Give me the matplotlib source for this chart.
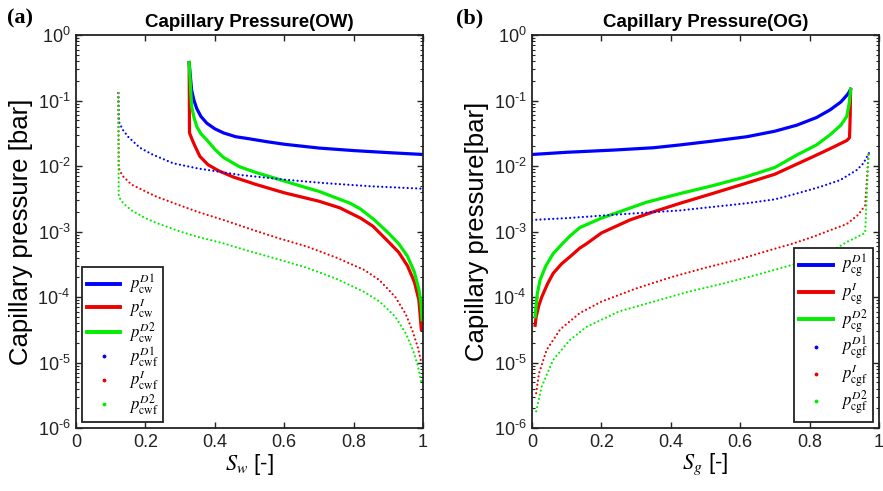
import numpy as np
import matplotlib
matplotlib.use("Agg")
import matplotlib.pyplot as plt
from matplotlib.lines import Line2D
from matplotlib.font_manager import FontProperties
from matplotlib.ticker import FuncFormatter, NullFormatter, FixedLocator

plt.rcParams['font.family'] = ['Liberation Sans', 'DejaVu Sans']
plt.rcParams['mathtext.fontset'] = 'custom'
plt.rcParams['mathtext.rm'] = 'Liberation Sans'
plt.rcParams['mathtext.it'] = 'Liberation Sans:italic'
plt.rcParams['mathtext.bf'] = 'Liberation Sans:bold'

# ---------------- Panel (a): OW ----------------
sw_cw_d1 = [0.326, 0.329, 0.333, 0.34, 0.348, 0.36, 0.377, 0.4, 0.425, 0.46, 0.5, 0.55, 0.6, 0.7, 0.8, 0.9, 1.0]
p_cw_d1 = [0.38, 0.25, 0.145, 0.1, 0.075, 0.057, 0.045, 0.037, 0.032, 0.028, 0.026, 0.0235, 0.0215, 0.0188, 0.0172, 0.016, 0.015]

sw_cw_i = [0.326, 0.327, 0.335, 0.343, 0.357, 0.38, 0.41, 0.453, 0.52, 0.6, 0.7, 0.76, 0.82, 0.856, 0.9, 0.93, 0.955, 0.975, 0.988, 0.995]
p_cw_i = [0.38, 0.032, 0.025, 0.02, 0.014, 0.0105, 0.0085, 0.0068, 0.0052, 0.0039, 0.0029, 0.0023, 0.0016, 0.0012, 7e-4, 4.8e-4, 3e-4, 1.7e-4, 9e-5, 3.2e-5]

sw_cw_d2 = [0.326, 0.329, 0.333, 0.34, 0.348, 0.36, 0.377, 0.4, 0.425, 0.47, 0.52, 0.57, 0.65, 0.7, 0.76, 0.79, 0.82, 0.86, 0.9, 0.93, 0.955, 0.975, 0.988, 0.994, 0.997]
p_cw_d2 = [0.38, 0.2, 0.081, 0.055, 0.04, 0.031, 0.025, 0.018, 0.0135, 0.0098, 0.0079, 0.0066, 0.0049, 0.0041, 0.0031, 0.0027, 0.0022, 0.0015, 9.5e-4, 6.5e-4, 4.2e-4, 2.4e-4, 1.3e-4, 8e-5, 4.5e-5]

sw_cwf_d1 = [0.122, 0.123, 0.125, 0.136, 0.15, 0.184, 0.22, 0.28, 0.35, 0.473, 0.6, 0.712, 0.85, 1.0]
p_cwf_d1 = [0.13, 0.06, 0.045, 0.035, 0.028, 0.019, 0.015, 0.011, 0.0092, 0.0073, 0.0062, 0.0055, 0.0049, 0.0045]

sw_cwf_i = [0.122, 0.123, 0.13, 0.136, 0.16, 0.2, 0.232, 0.3, 0.35, 0.425, 0.5, 0.58, 0.665, 0.75, 0.83, 0.875, 0.92, 0.95, 0.97, 0.985, 0.995]
p_cwf_i = [0.13, 0.0093, 0.0078, 0.0069, 0.0052, 0.0041, 0.0034, 0.0025, 0.002, 0.0015, 0.0011, 8e-4, 5.9e-4, 4e-4, 2.6e-4, 1.8e-4, 1e-4, 5.5e-5, 3e-5, 1.7e-5, 1e-5]

sw_cwf_d2 = [0.122, 0.123, 0.136, 0.16, 0.2, 0.232, 0.3, 0.35, 0.425, 0.5, 0.58, 0.665, 0.75, 0.83, 0.875, 0.92, 0.95, 0.97, 0.985, 0.995]
p_cwf_d2 = [0.13, 0.0034, 0.0027, 0.0021, 0.0016, 0.00135, 0.001, 8.3e-4, 6.6e-4, 5e-4, 3.8e-4, 2.8e-4, 1.9e-4, 1.2e-4, 8.5e-5, 5e-5, 2.8e-5, 1.6e-5, 9e-6, 5e-6]

# ---------------- Panel (b): OG ----------------
sg_cg_d1 = [0.0, 0.1, 0.234, 0.35, 0.427, 0.52, 0.619, 0.7, 0.763, 0.82, 0.859, 0.89, 0.91, 0.918]
p_cg_d1 = [0.015, 0.0162, 0.0175, 0.019, 0.021, 0.024, 0.028, 0.034, 0.042, 0.055, 0.072, 0.095, 0.125, 0.148]

sg_cg_i = [0.009, 0.012, 0.02, 0.028, 0.045, 0.061, 0.085, 0.109, 0.138, 0.157, 0.2, 0.282, 0.35, 0.427, 0.52, 0.619, 0.7, 0.81, 0.86, 0.907, 0.915, 0.917, 0.918]
p_cg_i = [3.7e-5, 5e-5, 7.5e-5, 1e-4, 1.6e-4, 2.3e-4, 3.2e-4, 4.1e-4, 5.6e-4, 6.5e-4, 9.5e-4, 1.5e-3, 2e-3, 2.7e-3, 3.8e-3, 5.5e-3, 7.5e-3, 0.0139, 0.0185, 0.0245, 0.027, 0.06, 0.148]

sg_cg_d2 = [0.009, 0.015, 0.023, 0.04, 0.061, 0.085, 0.109, 0.138, 0.2, 0.234, 0.33, 0.427, 0.52, 0.619, 0.7, 0.763, 0.82, 0.859, 0.89, 0.907, 0.914, 0.918]
p_cg_d2 = [5e-5, 1.1e-4, 1.8e-4, 3e-4, 4.6e-4, 6.3e-4, 8.5e-4, 1.15e-3, 1.6e-3, 1.85e-3, 2.8e-3, 3.8e-3, 5e-3, 6.9e-3, 9.5e-3, 0.0147, 0.021, 0.03, 0.042, 0.057, 0.09, 0.148]

sg_cgf_d1 = [0.0, 0.1, 0.234, 0.427, 0.619, 0.7, 0.763, 0.83, 0.888, 0.936, 0.955, 0.97, 0.972]
p_cgf_d1 = [0.0015, 0.0016, 0.0018, 0.0021, 0.0027, 0.0031, 0.0038, 0.0048, 0.0061, 0.0087, 0.011, 0.0155, 0.016]

sg_cgf_i = [0.012, 0.02, 0.042, 0.081, 0.138, 0.2, 0.3, 0.4, 0.5, 0.6, 0.686, 0.75, 0.81, 0.86, 0.907, 0.94, 0.96, 0.97]
p_cgf_i = [3.4e-6, 6.8e-6, 1.55e-5, 3.2e-5, 5.7e-5, 8.5e-5, 1.35e-4, 2e-4, 2.8e-4, 3.8e-4, 5.2e-4, 6.5e-4, 8.3e-4, 1.05e-3, 1.3e-3, 1.8e-3, 2.5e-3, 0.016]

sg_cgf_d2 = [0.012, 0.028, 0.061, 0.109, 0.157, 0.25, 0.35, 0.45, 0.55, 0.65, 0.75, 0.82, 0.868, 0.907, 0.96, 0.97]
p_cgf_d2 = [1.8e-6, 4.3e-6, 1.1e-5, 2.2e-5, 3.5e-5, 6e-5, 8.5e-5, 1.2e-4, 1.6e-4, 2.2e-4, 3.1e-4, 4e-4, 5.2e-4, 6.9e-4, 9.5e-4, 0.016]

labels_a = [r'$p_{\mathrm{cw}}^{D1}$', r'$p_{\mathrm{cw}}^{I}$', r'$p_{\mathrm{cw}}^{D2}$',
            r'$p_{\mathrm{cwf}}^{D1}$', r'$p_{\mathrm{cwf}}^{I}$', r'$p_{\mathrm{cwf}}^{D2}$']
labels_b = [r'$p_{\mathrm{cg}}^{D1}$', r'$p_{\mathrm{cg}}^{I}$', r'$p_{\mathrm{cg}}^{D2}$',
            r'$p_{\mathrm{cgf}}^{D1}$', r'$p_{\mathrm{cgf}}^{I}$', r'$p_{\mathrm{cgf}}^{D2}$']
xticks = [0, 0.2, 0.4, 0.6, 0.8, 1.0]
xticklabels = ['0', '0.2', '0.4', '0.6', '0.8', '1']
yexps = [-6, -5, -4, -3, -2, -1, 0]

colors = ['#0000ff', '#ee0000', '#00ee00']
solid_lw = 2.3
dot_style = dict(linestyle=(0, (0.01, 1.9)), lw=1.6, dash_capstyle='round')

fig = plt.figure(figsize=(8.83, 4.91), dpi=100)
ax1 = fig.add_axes([0.0861, 0.1283, 0.393, 0.8004])
ax2 = fig.add_axes([0.6025, 0.1283, 0.393, 0.8004])

mathprop = FontProperties(family='Liberation Sans', size=12, math_fontfamily='stix')

major_y = [10.0 ** e for e in yexps]
minor_y = [m * 10.0 ** e for e in yexps[:-1] for m in range(2, 10)]


def ytick_fmt(v, p):
    n = int(round(np.log10(v)))
    if n < 0:
        return r'$\mathregular{10^{\text{-}%d}}$' % (-n)
    return r'$\mathregular{10^{%d}}$' % n


def style_axes(ax, title, ylabel, xlabel, letter, letter_x):
    ax.set_yscale('log')
    ax.set_xlim(0, 1)
    ax.set_ylim(1e-6, 1)
    ax.xaxis.set_major_locator(FixedLocator(xticks))
    ax.set_xticklabels(xticklabels)
    ax.yaxis.set_major_locator(FixedLocator(major_y))
    ax.yaxis.set_minor_locator(FixedLocator(minor_y))
    ax.yaxis.set_minor_formatter(NullFormatter())
    ax.yaxis.set_major_formatter(FuncFormatter(ytick_fmt))
    ax.tick_params(which='both', direction='in', top=True, right=True, labelsize=13, colors='#222222')
    ax.tick_params(which='major', length=4.5, width=1.0, pad=4)
    ax.tick_params(which='minor', length=2.5, width=0.8)
    for s in ax.spines.values():
        s.set_linewidth(1.3)
        s.set_color('#222222')
    ax.set_title(title, fontsize=13.5, fontweight='bold', pad=6)
    ax.set_ylabel(ylabel, fontsize=18.5, labelpad=3)
    ax.set_xlabel(xlabel, fontproperties=FontProperties(family='Liberation Sans', size=16, math_fontfamily='stix'), labelpad=1)
    fig.text(letter_x, 0.962, letter, fontsize=16, fontweight='bold', family='Liberation Serif', va='center', ha='left')

# Panel a
ax1.plot(sw_cw_d1, p_cw_d1, color=colors[0], lw=solid_lw)
ax1.plot(sw_cw_i, p_cw_i, color=colors[1], lw=solid_lw)
ax1.plot(sw_cw_d2, p_cw_d2, color=colors[2], lw=solid_lw)
ax1.plot(sw_cwf_d1, p_cwf_d1, color=colors[0], **dot_style)
ax1.plot(sw_cwf_i, p_cwf_i, color=colors[1], **dot_style)
ax1.plot(sw_cwf_d2, p_cwf_d2, color=colors[2], **dot_style)
style_axes(ax1, 'Capillary Pressure(OW)', 'Capillary pressure [bar]', r'$S_w$ [-]', '(a)', 0.008)

# Panel b
ax2.plot(sg_cg_d1, p_cg_d1, color=colors[0], lw=solid_lw)
ax2.plot(sg_cg_i, p_cg_i, color=colors[1], lw=solid_lw)
ax2.plot(sg_cg_d2, p_cg_d2, color=colors[2], lw=solid_lw)
ax2.plot(sg_cgf_d1, p_cgf_d1, color=colors[0], **dot_style)
ax2.plot(sg_cgf_i, p_cgf_i, color=colors[1], **dot_style)
ax2.plot(sg_cgf_d2, p_cgf_d2, color=colors[2], **dot_style)
style_axes(ax2, 'Capillary Pressure(OG)', 'Capillary pressure[bar]', r'$S_g$ [-]', '(b)', 0.516)


def make_handles():
    h = [Line2D([], [], color=c, lw=2.8) for c in colors]
    h += [Line2D([], [], color=c, marker='.', markersize=3.5, linestyle='none') for c in colors]
    return h

for ax, labs, loc in [(ax1, labels_a, 'lower left'), (ax2, labels_b, 'lower right')]:
    leg = ax.legend(make_handles(), labs, loc=loc, prop=mathprop, fancybox=False,
                    edgecolor='#222222', framealpha=1, handlelength=2.0, handletextpad=0.5,
                    labelspacing=0.0, borderaxespad=0.35, borderpad=0.3)
    leg.get_frame().set_linewidth(1.3)

fig.savefig('out.png', dpi=100)
